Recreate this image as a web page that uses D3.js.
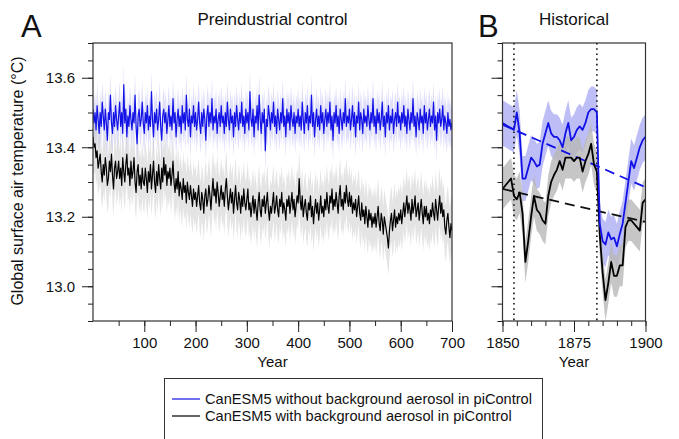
<!DOCTYPE html>
<html>
<head>
<meta charset="utf-8">
<script src="https://cdn.jsdelivr.net/npm/d3@7"></script>
<style>
body { margin: 0; background: #fff; }
text { font-family: "Liberation Sans", Arial, Helvetica, sans-serif; fill: #111; }
.axis path.domain { display: none; }
.axis line { stroke: #222; }
</style>
</head>
<body>
<div id="graphic"></div>
<script>
// Panel A: preindustrial control, every 2nd model year from 0 to 700
var yearsA = d3.range(0, 701, 2);
var blueA = [
  13.51,13.47,13.50,13.45,13.52,13.48,13.44,13.50,13.46,13.53,13.49,13.45,13.51,13.47,13.42,13.50,13.48,13.55,13.47,13.44,13.50,13.46,13.52,13.48,13.45,
  13.49,13.53,13.46,13.50,13.44,13.58,13.47,13.51,13.43,13.49,13.46,13.52,13.48,13.45,13.50,13.47,13.55,13.46,13.41,13.49,13.51,13.46,13.48,13.53,13.47,
  13.44,13.50,13.47,13.52,13.45,13.49,13.46,13.56,13.48,13.43,13.50,13.47,13.51,13.45,13.48,13.53,13.46,13.42,13.49,13.51,13.47,13.50,13.44,13.48,13.52,
  13.46,13.49,13.45,13.54,13.47,13.50,13.43,13.48,13.51,13.46,13.49,13.44,13.52,13.47,13.50,13.45,13.55,13.48,13.46,13.51,13.43,13.49,13.47,13.52,13.46,
  13.50,13.45,13.48,13.53,13.47,13.44,13.50,13.46,13.51,13.48,13.42,13.49,13.52,13.46,13.50,13.47,13.54,13.45,13.49,13.47,13.51,13.44,13.48,13.50,13.46,
  13.52,13.47,13.49,13.44,13.50,13.46,13.53,13.48,13.45,13.51,13.47,13.49,13.43,13.50,13.46,13.52,13.48,13.45,13.50,13.47,13.53,13.46,13.49,13.44,13.51,
  13.47,13.50,13.45,13.56,13.48,13.46,13.51,13.43,13.49,13.47,13.52,13.45,13.55,13.48,13.44,13.50,13.47,13.51,13.39,13.48,13.46,13.52,13.49,13.45,13.50,
  13.47,13.53,13.46,13.49,13.44,13.51,13.48,13.45,13.50,13.47,13.54,13.46,13.49,13.43,13.51,13.47,13.50,13.45,13.52,13.48,13.46,13.50,13.44,13.49,13.47,
  13.51,13.46,13.49,13.45,13.53,13.48,13.44,13.50,13.47,13.52,13.45,13.49,13.47,13.55,13.46,13.50,13.43,13.48,13.51,13.46,13.49,13.45,13.52,13.47,13.50,
  13.44,13.48,13.51,13.46,13.50,13.47,13.53,13.45,13.49,13.42,13.50,13.47,13.52,13.46,13.49,13.44,13.51,13.48,13.45,13.50,13.47,13.54,13.46,13.49,13.47,
  13.51,13.45,13.48,13.52,13.46,13.50,13.43,13.49,13.47,13.53,13.45,13.50,13.48,13.44,13.51,13.47,13.49,13.46,13.52,13.48,13.45,13.50,13.47,13.54,13.46,
  13.49,13.44,13.51,13.47,13.50,13.45,13.48,13.53,13.46,13.49,13.43,13.50,13.47,13.52,13.45,13.49,13.47,13.51,13.44,13.48,13.50,13.46,13.53,13.47,13.49,
  13.45,13.50,13.47,13.52,13.46,13.49,13.44,13.51,13.48,13.45,13.50,13.47,13.54,13.46,13.49,13.43,13.50,13.48,13.45,13.51,13.47,13.49,13.44,13.52,13.47,
  13.50,13.45,13.48,13.51,13.46,13.49,13.47,13.53,13.45,13.49,13.42,13.50,13.47,13.51,13.46,13.48,13.52,13.45,13.49,13.47,13.44,13.50,13.46,13.48,13.45,
  13.47
];
var blackA = [
  13.43,13.40,13.41,13.37,13.39,13.34,13.36,13.38,13.33,13.30,13.35,13.32,13.37,13.34,13.29,13.31,13.36,13.33,13.38,13.32,13.28,13.34,13.36,13.31,13.33,
  13.36,13.31,13.34,13.29,13.37,13.33,13.30,13.35,13.38,13.32,13.34,13.29,13.36,13.31,13.33,13.37,13.30,13.27,13.33,13.35,13.29,13.32,13.28,13.34,13.30,
  13.29,13.34,13.31,13.27,13.33,13.30,13.35,13.28,13.32,13.36,13.30,13.27,13.33,13.29,13.35,13.31,13.28,13.34,13.30,13.37,13.32,13.35,13.29,13.33,13.31,
  13.34,13.29,13.32,13.36,13.30,13.27,13.31,13.28,13.33,13.26,13.30,13.28,13.25,13.31,13.27,13.29,13.24,13.30,13.27,13.25,13.29,13.26,13.23,13.28,13.25,
  13.27,13.23,13.26,13.29,13.24,13.22,13.27,13.25,13.21,13.26,13.28,13.23,13.25,13.29,13.26,13.22,13.27,13.31,13.26,13.28,13.24,13.30,13.27,13.23,13.26,
  13.29,13.25,13.27,13.23,13.28,13.31,13.26,13.22,13.25,13.28,13.24,13.27,13.21,13.25,13.29,13.24,13.22,13.27,13.25,13.21,13.26,13.23,13.28,13.24,13.22,
  13.25,13.28,13.22,13.24,13.20,13.23,13.26,13.21,13.25,13.22,13.19,13.24,13.27,13.22,13.20,13.25,13.23,13.26,13.21,13.24,13.27,13.22,13.19,13.23,13.21,
  13.24,13.27,13.21,13.23,13.26,13.22,13.20,13.25,13.23,13.27,13.21,13.24,13.22,13.19,13.25,13.23,13.26,13.21,13.24,13.27,13.22,13.25,13.20,13.23,13.26,
  13.24,13.31,13.25,13.22,13.26,13.20,13.23,13.25,13.21,13.19,13.24,13.22,13.26,13.20,13.23,13.18,13.22,13.25,13.21,13.24,13.19,13.22,13.26,13.21,13.23,
  13.20,13.25,13.22,13.27,13.23,13.21,13.26,13.24,13.28,13.22,13.25,13.23,13.27,13.24,13.21,13.26,13.29,13.23,13.25,13.22,13.27,13.24,13.29,13.25,13.23,
  13.27,13.23,13.26,13.21,13.24,13.22,13.25,13.20,13.23,13.26,13.21,13.19,13.24,13.20,13.22,13.18,13.23,13.20,13.17,13.22,13.19,13.21,13.17,13.20,13.18,
  13.21,13.17,13.20,13.23,13.18,13.16,13.21,13.19,13.15,13.20,13.18,13.16,13.14,13.11,13.16,13.19,13.21,13.16,13.19,13.22,13.17,13.20,13.18,13.21,13.19,
  13.22,13.18,13.21,13.24,13.20,13.23,13.26,13.21,13.24,13.22,13.19,13.25,13.21,13.23,13.26,13.20,13.22,13.24,13.19,13.22,13.25,13.21,13.18,13.23,13.20,
  13.23,13.19,13.21,13.18,13.22,13.20,13.24,13.21,13.19,13.25,13.22,13.19,13.23,13.26,13.21,13.24,13.20,13.22,13.17,13.15,13.19,13.21,13.17,13.14,13.18,
  13.16
];
// ensemble half-spread shown as the shaded band
var spreadA = { blue: 0.06, black: 0.08 };

// Panel B: historical 1850-1900
var yearsB = d3.range(1850, 1901);
var blueB = [
  13.47,13.465,13.46,13.455,13.45,13.50,13.44,13.31,13.31,13.34,
  13.37,13.36,13.345,13.35,13.41,13.44,13.47,13.44,13.43,13.43,
  13.42,13.40,13.44,13.47,13.42,13.43,13.45,13.46,13.45,13.47,
  13.50,13.51,13.51,13.50,13.18,13.13,13.12,13.155,13.135,13.14,
  13.115,13.15,13.18,13.24,13.30,13.36,13.34,13.37,13.40,13.42,
  13.43
];
var blackB = [
  13.28,13.29,13.30,13.31,13.26,13.25,13.27,13.21,13.07,13.13,
  13.20,13.26,13.22,13.21,13.19,13.18,13.26,13.30,13.32,13.335,
  13.36,13.335,13.37,13.37,13.37,13.36,13.37,13.37,13.33,13.36,
  13.38,13.41,13.35,13.33,13.15,13.04,12.96,13.01,13.07,13.03,
  13.03,13.06,13.06,13.17,13.19,13.19,13.18,13.17,13.16,13.24,
  13.25
];
var spreadB = { blue: 0.065, black: 0.06 };
var trendYears = [1850, 1900];
var blueTrend = [13.465, 13.285];
var blackTrend = [13.28, 13.185];
var eruptionYears = [1854, 1883];

var yTickLabels = [13.0, 13.2, 13.4, 13.6];
var xTicksA = [100, 200, 300, 400, 500, 600, 700];
var xTicksB = [1850, 1875, 1900];
var legendLabels = ["CanESM5 without background aerosol in piControl",
                    "CanESM5 with background aerosol in piControl"];

if (blueA.length !== yearsA.length || blackA.length !== yearsA.length) {
  throw new Error("panel A lengths " + blueA.length + " " + blackA.length + " vs " + yearsA.length);
}
if (blueB.length !== yearsB.length || blackB.length !== yearsB.length) {
  throw new Error("panel B lengths " + blueB.length + " " + blackB.length);
}

var blueCol = "#1212e6";
var width = 679, height = 439;
var top_ = 43, bottom_ = 321;

var svg = d3.select("#graphic").append("svg")
  .attr("width", width)
  .attr("height", height)
  .style("background-color", "#fff");

var y = d3.scaleLinear().domain([12.9, 13.7]).range([bottom_, top_]);
var xA = d3.scaleLinear().domain([0, 700]).range([93, 452]);
var xB = d3.scaleLinear().domain([1850, 1900]).range([502.5, 645.5]);

var yMinor = d3.range(258, 275).map(d => d / 20);

function drawPanel(x, years, blue, black, spread, opts) {
  var id = opts.id;
  var x0 = x.range()[0], x1 = x.range()[1];

  svg.append("clipPath").attr("id", "clip" + id)
    .append("rect")
    .attr("x", x0).attr("y", top_)
    .attr("width", x1 - x0).attr("height", bottom_ - top_);

  var g = svg.append("g").attr("clip-path", "url(#clip" + id + ")");

  var rows = years.map((yr, i) => ({ yr: yr, b: blue[i], k: black[i] }));

  var bandBlue = d3.area()
    .x(d => x(d.yr))
    .y0(d => y(d.b - spread.blue))
    .y1(d => y(d.b + spread.blue));
  var bandBlack = d3.area()
    .x(d => x(d.yr))
    .y0(d => y(d.k - spread.black))
    .y1(d => y(d.k + spread.black));

  g.append("path").attr("d", bandBlue(rows))
    .attr("fill", opts.blueBand).attr("fill-opacity", opts.bandOpacity);
  g.append("path").attr("d", bandBlack(rows))
    .attr("fill", opts.grayBand).attr("fill-opacity", opts.bandOpacity);

  if (opts.extras) opts.extras(g);

  var lineBlue = d3.line().x(d => x(d.yr)).y(d => y(d.b));
  var lineBlack = d3.line().x(d => x(d.yr)).y(d => y(d.k));

  g.append("path").attr("d", lineBlack(rows))
    .attr("fill", "none").attr("stroke", "#000")
    .attr("stroke-width", opts.lineWidth).attr("stroke-linejoin", "round");
  g.append("path").attr("d", lineBlue(rows))
    .attr("fill", "none").attr("stroke", blueCol)
    .attr("stroke-width", opts.lineWidth).attr("stroke-linejoin", "round");

  // frame
  svg.append("rect")
    .attr("x", x0).attr("y", top_)
    .attr("width", x1 - x0).attr("height", bottom_ - top_)
    .attr("fill", "none").attr("stroke", "#333").attr("stroke-width", 1.2);

  // y axis: minor + major ticks
  svg.append("g").attr("class", "axis")
    .attr("transform", "translate(" + x0 + ",0)")
    .call(d3.axisLeft(y).tickValues(yMinor).tickSize(5).tickFormat(""));
  var yMaj = svg.append("g").attr("class", "axis")
    .attr("transform", "translate(" + x0 + ",0)")
    .call(d3.axisLeft(y).tickValues(yTickLabels).tickSize(11).tickPadding(7)
      .tickFormat(opts.yLabels ? d3.format(".1f") : ""));
  yMaj.selectAll("text").style("font-size", "15px").attr("fill", "#111");

  // x axis
  svg.append("g").attr("class", "axis")
    .attr("transform", "translate(0," + bottom_ + ")")
    .call(d3.axisBottom(x).tickValues(opts.xMinor).tickSize(5).tickFormat(""));
  var xMaj = svg.append("g").attr("class", "axis")
    .attr("transform", "translate(0," + bottom_ + ")")
    .call(d3.axisBottom(x).tickValues(opts.xMajor).tickSize(11).tickPadding(5)
      .tickFormat(d3.format("d")));
  xMaj.selectAll("text").style("font-size", "15px").attr("fill", "#111");

  svg.append("text")
    .attr("x", (x0 + x1) / 2).attr("y", 367)
    .attr("text-anchor", "middle")
    .style("font-size", "15px")
    .text("Year");

  svg.append("text")
    .attr("x", (x0 + x1) / 2).attr("y", 25)
    .attr("text-anchor", "middle")
    .style("font-size", "17px")
    .text(opts.title);

  svg.append("text")
    .attr("x", opts.letterX).attr("y", 37)
    .style("font-size", "31px")
    .text(opts.letter);
}

drawPanel(xA, yearsA, blueA, blackA, spreadA, {
  id: "A", title: "Preindustrial control", letter: "A", letterX: 21,
  blueBand: "#b0b0f5", grayBand: "#bcbcbc", bandOpacity: 0.4,
  lineWidth: 1.2, yLabels: true,
  xMinor: d3.range(50, 701, 50), xMajor: xTicksA
});

drawPanel(xB, yearsB, blueB, blackB, spreadB, {
  id: "B", title: "Historical", letter: "B", letterX: 478,
  blueBand: "#aeaef4", grayBand: "#b8b8b8", bandOpacity: 0.8,
  lineWidth: 1.8, yLabels: false,
  xMinor: d3.range(1850, 1901, 5), xMajor: xTicksB,
  extras: function(g) {
    g.selectAll("line.eruption")
      .data(eruptionYears)
      .join("line")
      .attr("class", "eruption")
      .attr("x1", d => xB(d)).attr("x2", d => xB(d))
      .attr("y1", top_).attr("y2", bottom_)
      .attr("stroke", "#111").attr("stroke-width", 1.6)
      .attr("stroke-dasharray", "1.6,3.6");
    var trend = d3.line().x(d => xB(d[0])).y(d => y(d[1]));
    g.append("path").attr("d", trend(trendYears.map((t, i) => [t, blueTrend[i]])))
      .attr("fill", "none").attr("stroke", blueCol).attr("stroke-width", 1.8)
      .attr("stroke-dasharray", "10,6");
    g.append("path").attr("d", trend(trendYears.map((t, i) => [t, blackTrend[i]])))
      .attr("fill", "none").attr("stroke", "#111").attr("stroke-width", 1.8)
      .attr("stroke-dasharray", "10,6");
  }
});

// y axis title
svg.append("text")
  .attr("transform", "translate(23," + (y(13.3) - 1) + ") rotate(-90)")
  .attr("text-anchor", "middle")
  .style("font-size", "16px")
  .text("Global surface air temperature (°C)");

// legend
var leg = svg.append("g");
leg.append("rect")
  .attr("x", 164.5).attr("y", 378.5)
  .attr("width", 378).attr("height", 70)
  .attr("fill", "#fff").attr("stroke", "#333").attr("stroke-width", 1);
var legItems = leg.selectAll("g.item")
  .data(legendLabels)
  .join("g")
  .attr("class", "item")
  .attr("transform", (d, i) => "translate(0," + (399 + i * 17) + ")");
legItems.append("line")
  .attr("x1", 172).attr("x2", 200)
  .attr("stroke", (d, i) => i === 0 ? blueCol : "#000")
  .attr("stroke-width", 1.2);
legItems.append("text")
  .attr("x", 205).attr("dy", 5)
  .style("font-size", "14.6px")
  .text(d => d);
</script>
</body>
</html>
